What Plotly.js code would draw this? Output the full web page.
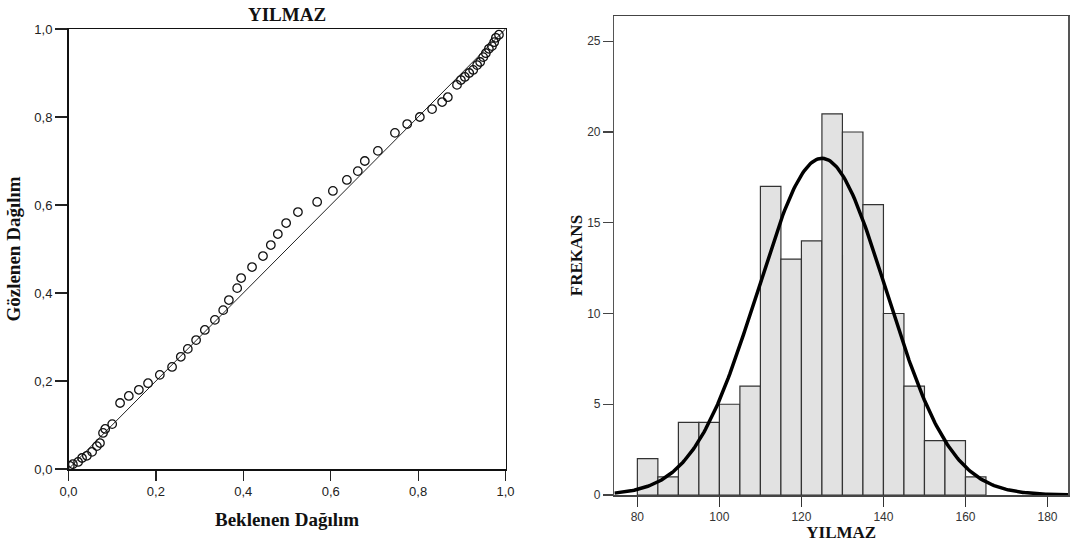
<!DOCTYPE html>
<html>
<head>
<meta charset="utf-8">
<script src="https://cdn.plot.ly/plotly-3.0.1.min.js"></script>
<style>html,body{margin:0;padding:0;background:#fff;}#chart{width:1070px;height:542px;}</style>
</head>
<body>
<div id="chart"></div>
<script>
// ---- P-P plot data (expected vs observed cumulative probability) ----
const ppExpected = [0.003,0.010,0.022,0.031,0.042,0.054,0.065,0.072,0.079,0.084,0.100,
  0.118,0.138,0.161,0.182,0.209,0.237,0.257,0.273,0.292,0.312,0.335,0.354,0.367,0.386,
  0.395,0.420,0.445,0.463,0.479,0.498,0.525,0.569,0.605,0.637,0.662,0.678,0.708,0.747,
  0.775,0.804,0.832,0.855,0.868,0.889,0.898,0.907,0.917,0.926,0.935,0.942,0.949,0.955,
  0.962,0.969,0.974,0.978,0.985];
const ppObserved = [0.007,0.011,0.016,0.025,0.030,0.039,0.052,0.059,0.082,0.091,0.102,
  0.150,0.166,0.180,0.195,0.214,0.232,0.255,0.273,0.293,0.316,0.339,0.361,0.384,0.411,
  0.434,0.459,0.484,0.509,0.534,0.559,0.584,0.607,0.632,0.657,0.677,0.700,0.723,0.764,
  0.784,0.800,0.818,0.834,0.845,0.873,0.884,0.891,0.900,0.907,0.918,0.925,0.936,0.945,
  0.955,0.961,0.970,0.980,0.987];
const refLine = [0, 1];
const ppTicks = [0, 0.2, 0.4, 0.6, 0.8, 1.0];

// ---- Histogram data (bin start, bin width 5) ----
const binStart = [80,85,90,95,100,105,110,115,120,125,130,135,140,145,150,155,160];
const binCount = [2,1,4,4,5,6,17,13,14,21,20,16,10,6,3,3,1];
const binWidth = 5;
const histXTicks = [80,100,120,140,160,180];
const histYTicks = [0,5,10,15,20,25];

// ---- Fitted normal curve parameters ----
const fitMean = 125.0;
const fitSD = 15.7;
const fitN = 146;
const curveFrom = 74.4, curveTo = 185.5;

const curveX = [], curveY = [];
for (let i = 0; i <= 300; i++) {
  const x = curveFrom + (curveTo - curveFrom) * i / 300;
  const z = (x - fitMean) / fitSD;
  curveX.push(x);
  curveY.push(fitN * binWidth * Math.exp(-0.5 * z * z) / (fitSD * Math.sqrt(2 * Math.PI)));
}

const serif = "Liberation Serif, Times New Roman, serif";
const sans = "Liberation Sans, Arial, sans-serif";

const traces = [
  {x: refLine, y: refLine, xaxis: 'x', yaxis: 'y', mode: 'lines',
   line: {color: '#222', width: 1}, hoverinfo: 'skip', showlegend: false},
  {x: ppExpected, y: ppObserved, xaxis: 'x', yaxis: 'y', mode: 'markers', type: 'scatter',
   marker: {symbol: 'circle-open', size: 8.5, color: '#111', line: {width: 1.3, color: '#111'}},
   showlegend: false},
  {type: 'bar', x: binStart, y: binCount, width: binWidth, offset: 0, xaxis: 'x2', yaxis: 'y2',
   marker: {color: '#e2e2e2', line: {color: '#333', width: 1.2}}, showlegend: false},
  {x: curveX, y: curveY, xaxis: 'x2', yaxis: 'y2', mode: 'lines',
   line: {color: '#000', width: 3.5}, showlegend: false, hoverinfo: 'skip'}
];

const layout = {
  width: 1070, height: 542,
  margin: {l: 0, r: 0, t: 0, b: 0},
  paper_bgcolor: '#fff', plot_bgcolor: '#fff',
  separators: ',.',
  showlegend: false,
  bargap: 0,
  title: {text: '<b>YILMAZ</b>', x: 287/1070, xanchor: 'center', xref: 'paper',
          y: 1 - 14.5/542, yanchor: 'middle', yref: 'paper',
          font: {family: serif, size: 19, color: '#111'}},
  xaxis: {domain: [68.5/1070, 505.5/1070], anchor: 'y', range: [0, 1],
    tickvals: ppTicks, tickformat: '.1f', ticks: 'outside', ticklen: 10, tickwidth: 1.2,
    tickcolor: '#222', showline: true, linecolor: '#111', linewidth: 1.5, mirror: true,
    showgrid: false, zeroline: false, tickfont: {family: sans, size: 13, color: '#222'},
    title: {text: '<b>Beklenen Dağılım</b>', standoff: 14, font: {family: serif, size: 19, color: '#111'}}},
  yaxis: {domain: [73/542, 513/542], anchor: 'x', range: [0, 1],
    tickvals: ppTicks, tickformat: '.1f', ticks: 'outside', ticklen: 12, tickwidth: 1.2,
    tickcolor: '#222', showline: true, linecolor: '#111', linewidth: 1.5, mirror: true,
    showgrid: false, zeroline: false, tickfont: {family: sans, size: 13, color: '#222'},
    title: {text: '<b>Gözlenen Dağılım</b>', standoff: 8, font: {family: serif, size: 19, color: '#111'}}},
  xaxis2: {domain: [614.4/1070, 1068/1070], anchor: 'y2', range: [74.4, 185],
    tickvals: histXTicks, ticks: 'outside', ticklen: 10, tickwidth: 1.2, tickcolor: '#333',
    showline: true, linecolor: '#444', linewidth: 1.5, mirror: true,
    showgrid: false, zeroline: false, tickfont: {family: sans, size: 12, color: '#333'},
    title: {text: '<b>YILMAZ</b>', standoff: 0, font: {family: serif, size: 17, color: '#111'}}},
  yaxis2: {domain: [47/542, 526/542], anchor: 'x2', range: [0, 26.39],
    tickvals: histYTicks, ticks: 'outside', ticklen: 10, tickwidth: 1.2, tickcolor: '#444',
    showline: true, linecolor: '#555', linewidth: 1.5, mirror: true,
    showgrid: false, zeroline: false, tickfont: {family: sans, size: 12, color: '#333'},
    title: {text: '<b>FREKANS</b>', standoff: 0, font: {family: serif, size: 17, color: '#111'}}}
};

Plotly.newPlot('chart', traces, layout, {staticPlot: true, displayModeBar: false});
</script>
</body>
</html>
